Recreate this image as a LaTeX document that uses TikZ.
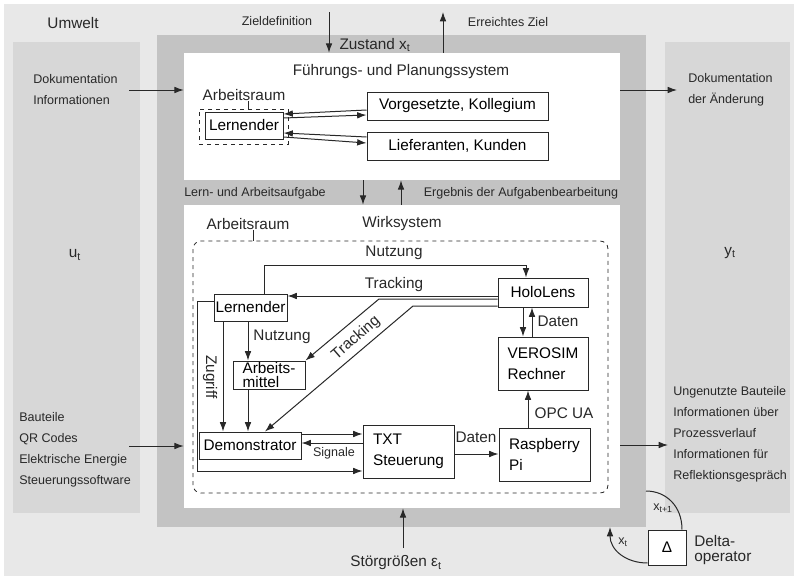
\documentclass[tikz,border=0pt]{standalone}
\usepackage{fontspec}
\setmainfont{Liberation Sans}
\usetikzlibrary{arrows.meta}

\definecolor{umwelt}{RGB}{232,232,232}
\definecolor{panel}{RGB}{215,215,215}
\definecolor{zustand}{RGB}{195,195,195}
\definecolor{ink}{RGB}{40,40,40}

\newcommand{\fbig}{\fontsize{11.5pt}{15.5pt}\selectfont}
\newcommand{\fsml}{\fontsize{9.4pt}{15.75pt}\selectfont}

\tikzset{
  box/.style={draw=ink, line width=0.75pt, fill=white, inner sep=1pt, align=left, font=\fbig},
  arr/.style={-{Latex[length=7pt,width=5pt]}, draw=ink, line width=0.75pt},
  lbl/.style={inner sep=0pt, font=\fbig, text=ink},
  sml/.style={inner sep=0pt, font=\fsml, text=ink, align=left},
}

\begin{document}
\begin{tikzpicture}[x=0.75pt,y=0.75pt,yscale=-1]
\useasboundingbox (0,0) rectangle (796,578);

%Shape: Umwelt, Eingang, Ausgang, Zustand
\fill[umwelt] (4,4) rectangle (794,576);
\fill[panel] (13,42) rectangle (140,513);
\fill[panel] (665,42) rectangle (790,513);
\fill[zustand] (157,35) rectangle (646,527);

%Shape: Fuehrungs- und Planungssystem / Wirksystem
\node[fill=white, inner sep=0pt, minimum width=327pt, minimum height=95.25pt] (fps) at (402,116.5) {};
\node[fill=white, inner sep=0pt, minimum width=327pt, minimum height=227.25pt] (ws) at (402,356.5) {};

% Text Node
\node[lbl] (umw) at (73,23) {Umwelt};
\node[lbl] (zust) at (375,45) {Zustand x\textsubscript{t}};
\node[sml] (zdef) at (277,21) {Zieldefinition};
\node[sml] (erz) at (508,22) {Erreichtes Ziel};
\node[lbl] (fpslbl) at (401,72) {Führungs- und Planungssystem};
\node[sml] (task) at (255,193) {Lern- und Arbeitsaufgabe};
\node[sml] (res) at (521,193) {Ergebnis der Aufgabenbearbeitung};
\node[lbl] (ut) at (75,255) {u\textsubscript{t}};
\node[lbl] (yt) at (730,253) {y\textsubscript{t}};
\node[sml, anchor=west] (dokin) at (33,90) {Dokumentation\\Informationen};
\node[sml, anchor=west] (dokout) at (688,90) {Dokumentation\\der Änderung};
\node[sml, anchor=west] (inp) at (19,450) {Bauteile\\QR Codes\\Elektrische Energie\\Steuerungssoftware};
\node[sml, anchor=west] (outp) at (673,434) {Ungenutzte Bauteile\\Informationen über\\Prozessverlauf\\Informationen für\\Reflektionsgespräch};
\node[lbl] (stoer) at (396,563) {Störgrößen ε\textsubscript{t}};

% Fuehrungs- und Planungssystem
\node[lbl] (ar1lbl) at (244,95) {Arbeitsraum};
\node[draw=ink, dashed, line width=0.6pt, inner sep=0pt, minimum width=66.75pt, minimum height=26.25pt] (ar1) at (243.5,126.5) {};
\node[box, minimum width=58.5pt, minimum height=20.25pt] (lern1) at (244,125.5) {Lernender};
\node[box, align=center, minimum width=135.75pt, minimum height=21pt] (vorg) at (457.5,106) {Vorgesetzte, Kollegium};
\node[box, align=center, minimum width=135.75pt, minimum height=21pt] (lief) at (457.5,146) {Lieferanten, Kunden};
\draw[ink, line width=0.6pt] (248,0 |- ar1lbl.south) -- (248,0 |- ar1.north);

\draw[arr] (vorg.west |- 0,110) -- (lern1.east |- 0,114);
\draw[arr] (lern1.east |- 0,118) -- (vorg.west |- 0,115);
\draw[arr] (lief.west |- 0,137) -- (lern1.east |- 0,133);
\draw[arr] (lern1.east |- 0,137) -- (lief.west |- 0,143);

% Wirksystem
\node[lbl] (ar2lbl) at (248,224) {Arbeitsraum};
\node[lbl] (wslbl) at (402,224) {Wirksystem};
\draw[ink, dashed, line width=0.6pt, rounded corners=6pt] (193,241) rectangle (608,493);
\draw[ink, line width=0.6pt] (253,0 |- ar2lbl.south) -- (253,241);

\node[box, minimum width=54.75pt, minimum height=20.25pt] (lern2) at (250.5,307.5) {Lernender};
\node[box, minimum width=54pt, minimum height=21pt, inner sep=0pt] (arbm) at (269,375) {Arbeits-\\[-5.5pt]mittel};
\node[box, minimum width=76.5pt, minimum height=20.25pt] (demo) at (250,445.5) {Demonstrator};
\node[box, minimum width=68.25pt, minimum height=39.75pt] (txt) at (408.5,451.5) {TXT\\Steuerung};
\node[box, minimum width=68.25pt, minimum height=39.75pt] (rasp) at (544.5,454.5) {Raspberry\\Pi};
\node[box, minimum width=67.5pt, minimum height=39.75pt] (vero) at (543,363.5) {VEROSIM\\Rechner};
\node[box, align=center, minimum width=67.5pt, minimum height=21.75pt] (holo) at (543,292.5) {HoloLens};

% Nutzung / Tracking
\draw[arr] (lern2.north -| 264,0) |- (526,265) -- (holo.north -| 526,0);
\node[lbl] (nutz1) at (394,253) {Nutzung};
\draw[arr] (holo.west |- 0,296) -- (lern2.east |- 0,296);
\node[lbl] (track1) at (394,285) {Tracking};
\draw[arr] (holo.west |- 0,299) -- (379,299) -- (arbm.north east);
\draw[arr] (holo.west |- 0,306) -- (413,306) -- (demo.north -| 265,0);
\node[lbl, rotate=41] (track2) at (356,338) {Tracking};

\draw[arr] (lern2.south -| 248,0) -- (arbm.north -| 248,0);
\node[lbl] (nutz2) at (282,337) {Nutzung};
\draw[arr] (lern2.south -| 223,0) -- (demo.north -| 223,0);
\draw[arr] (arbm.south -| 248,0) -- (demo.north -| 248,0);

% Zugriff
\draw[arr] (lern2.west |- 0,301) -- (197,301) |- (txt.west |- 0,471);
\node[lbl, rotate=-90] (zug) at (210,377) {Zugriff};

\draw[arr] (demo.east |- 0,434) -- (txt.west |- 0,434);
\draw[arr] (txt.west |- 0,443) -- (demo.east |- 0,443);
\node[sml] (sig) at (334,453) {Signale};
\draw[arr] (txt.east |- 0,454) -- (rasp.west |- 0,454);
\node[lbl] (dat1) at (476,437) {Daten};
\draw[arr] (rasp.north -| 528,0) -- (vero.south -| 528,0);
\node[lbl] (opc) at (564,413) {OPC UA};
\draw[arr] (holo.south -| 523,0) -- (vero.north -| 523,0);
\draw[arr] (vero.north -| 532,0) -- (holo.south -| 532,0);
\node[lbl] (dat2) at (558,321) {Daten};

% Ein- und Ausgaenge
\coordinate (zdtop) at (329,12);
\draw[arr] (zdtop) -- (zdtop |- fps.north);
\coordinate (eztop) at (443,12);
\draw[arr] (eztop |- fps.north) -- (eztop);
\draw[arr] (fps.south -| 363,0) -- (ws.north -| 363,0);
\draw[arr] (ws.north -| 401,0) -- (fps.south -| 401,0);
\coordinate (din) at (129,90);
\draw[arr] (din) -- (din -| fps.west);
\coordinate (bin) at (129,446);
\draw[arr] (bin) -- (bin -| ws.west);
\coordinate (dout) at (677,90);
\draw[arr] (dout -| fps.east) -- (dout);
\coordinate (bout) at (668,445);
\draw[arr] (bout -| ws.east) -- (bout);
\coordinate (st) at (403,548);
\draw[arr] (st) -- (st |- ws.south);

% Deltaoperator
\node[box, align=center, minimum width=28.5pt, minimum height=26.25pt] (delta) at (667,547.5) {Δ};
\node[lbl, anchor=west, align=left] (dlbl) at (694,550) {Delta-\\[-4pt]operator};
\coordinate (xt1) at (646,491);
\coordinate (xt) at (610,527);
\draw[ink, line width=0.75pt] (delta.north -| 682,0) .. controls (682,506) and (666,491) .. (xt1);
\draw[arr] (delta.south west |- 0,563) .. controls (626,563) and (610,550) .. (xt);
\node[sml] (xt1lbl) at (663,508) {x\textsubscript{t+1}};
\node[sml] (xtlbl) at (623,542) {x\textsubscript{t}};

\end{tikzpicture}
\end{document}
